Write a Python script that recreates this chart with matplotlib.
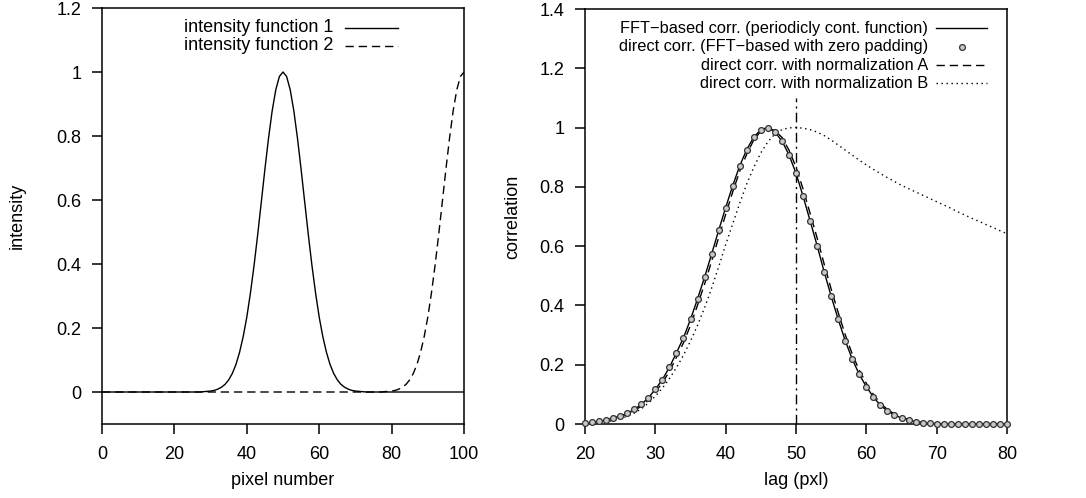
import matplotlib
matplotlib.use("Agg")
import matplotlib.pyplot as plt

plt.rcParams['font.family'] = ['Liberation Sans', 'DejaVu Sans']
plt.rcParams['lines.scale_dashes'] = False

# ---------------- data: left panel ----------------
pixel = list(range(0, 101))
# intensity function 1 (peak at pixel 50), values for pixels 27..73, zero elsewhere
f1_core = [0.000, 0.001, 0.002, 0.003, 0.005, 0.009, 0.015, 0.024, 0.038, 0.058,
           0.086, 0.124, 0.173, 0.234, 0.309, 0.395, 0.491, 0.593, 0.696, 0.793,
           0.878, 0.944, 0.986, 1.000, 0.986, 0.944, 0.878, 0.793, 0.696, 0.593,
           0.491, 0.395, 0.309, 0.234, 0.173, 0.124, 0.086, 0.058, 0.038, 0.024,
           0.015, 0.009, 0.005, 0.003, 0.002, 0.001, 0.000]
intensity1 = [0.0] * 27 + f1_core + [0.0] * (101 - 27 - len(f1_core))
# intensity function 2 (rising to its peak at pixel 100), values for pixels 78..100
f2_tail = [0.001, 0.002, 0.003, 0.005, 0.009, 0.015, 0.024, 0.038, 0.058, 0.086,
           0.124, 0.173, 0.234, 0.309, 0.395, 0.491, 0.593, 0.696, 0.793, 0.878,
           0.944, 0.986, 1.000]
intensity2 = [0.0] * (101 - len(f2_tail)) + f2_tail

# ---------------- data: right panel ----------------
lag = list(range(20, 81))
corr_fft = [0.002, 0.006, 0.009, 0.014, 0.020, 0.027, 0.036, 0.049, 0.066, 0.088,
            0.117, 0.150, 0.191, 0.240, 0.291, 0.353, 0.422, 0.495, 0.573, 0.653,
            0.730, 0.804, 0.871, 0.926, 0.968, 0.993, 1.000, 0.985, 0.955, 0.908,
            0.846, 0.769, 0.686, 0.602, 0.514, 0.431, 0.353, 0.281, 0.219, 0.167,
            0.126, 0.091, 0.063, 0.044, 0.030, 0.020, 0.013, 0.008, 0.004, 0.002,
            0.001, 0, 0, 0, 0, 0, 0, 0, 0, 0, 0]
corr_direct = list(corr_fft)
corr_normA = [0.001, 0.005, 0.008, 0.012, 0.018, 0.025, 0.033, 0.045, 0.060, 0.080,
              0.108, 0.139, 0.177, 0.225, 0.274, 0.333, 0.401, 0.472, 0.549, 0.629,
              0.707, 0.783, 0.853, 0.911, 0.958, 0.988, 0.998, 0.990, 0.967, 0.924,
              0.867, 0.793, 0.711, 0.628, 0.540, 0.455, 0.376, 0.301, 0.236, 0.181,
              0.137, 0.100, 0.070, 0.049, 0.034, 0.023, 0.015, 0.009, 0.005, 0.003,
              0.001, 0, 0, 0, 0, 0, 0, 0, 0, 0, 0]
corr_normB = [0.001, 0.003, 0.005, 0.008, 0.012, 0.018, 0.026, 0.037, 0.051, 0.070,
              0.094, 0.121, 0.153, 0.190, 0.232, 0.280, 0.333, 0.392, 0.458, 0.530,
              0.605, 0.675, 0.745, 0.810, 0.866, 0.915, 0.952, 0.978, 0.993, 0.999,
              1.000, 0.998, 0.993, 0.985, 0.973, 0.958, 0.941, 0.924, 0.907, 0.890,
              0.874, 0.859, 0.845, 0.831, 0.818, 0.805, 0.794, 0.783, 0.772, 0.761,
              0.750, 0.739, 0.728, 0.716, 0.705, 0.694, 0.684, 0.673, 0.663, 0.652,
              0.642]
expected_lag = 50
expected_line_top = 1.1

left_yticks = [0, 0.2, 0.4, 0.6, 0.8, 1.0, 1.2]
left_yticklabels = ["0", "0.2", "0.4", "0.6", "0.8", "1", "1.2"]
left_xticks = [0, 20, 40, 60, 80, 100]
right_yticks = [0, 0.2, 0.4, 0.6, 0.8, 1.0, 1.2, 1.4]
right_yticklabels = ["0", "0.2", "0.4", "0.6", "0.8", "1", "1.2", "1.4"]
right_xticks = [20, 30, 40, 50, 60, 70, 80]

legend_left = ["intensity function 1", "intensity function 2"]
legend_right = ["FFT\u2212based corr. (periodicly cont. function)",
                "direct corr. (FFT\u2212based with zero padding)",
                "direct corr. with normalization A",
                "direct corr. with normalization B"]

# ---------------- styling ----------------
FS = 13
FS_LEG_R = 11.8
LW = 1.0
DASH = (0, (6, 3.5))
DOT = (0, (1.0, 2.6))
DASHDOT = (0, (7, 3, 1.5, 3))

W, H = 1086, 498
fig = plt.figure(figsize=(W / 100, H / 100), dpi=100)

def frac(x0, y0, x1, y1):
    return [x0 / W, 1 - y1 / H, (x1 - x0) / W, (y1 - y0) / H]

ax1 = fig.add_axes(frac(102, 8, 464, 424))
ax2 = fig.add_axes(frac(585, 9, 1007, 424))

for ax in (ax1, ax2):
    for s in ax.spines.values():
        s.set_linewidth(1.1)
    ax.tick_params(direction='out', length=7, width=1.1, labelsize=FS,
                   top=False, right=False)
    ax.tick_params(axis='y', pad=8)
    ax.tick_params(axis='x', pad=9)

# left panel
ax1.plot(pixel, intensity1, color='black', lw=LW, linestyle='-')
ax1.plot(pixel, intensity2, color='black', lw=LW, linestyle=DASH)
ax1.set_xlim(0, 100)
ax1.set_ylim(-0.1, 1.2)
ax1.set_xticks(left_xticks)
ax1.set_xticklabels([str(v) for v in left_xticks])
ax1.set_yticks(left_yticks)
ax1.set_yticklabels(left_yticklabels)
ax1.set_xlabel("pixel number", fontsize=FS, labelpad=6)
ax1.set_ylabel("intensity", fontsize=FS, labelpad=22)

# gnuplot-like key (text right-aligned, sample on the right)
ly = [0.952, 0.909]
styles_left = ['-', DASH]
for t, yy, st in zip(legend_left, ly, styles_left):
    ax1.text(0.638, yy, t, transform=ax1.transAxes, ha='right', va='center', fontsize=FS)
    ax1.plot([0.671, 0.818], [yy, yy], transform=ax1.transAxes, color='black',
             lw=LW, linestyle=st, clip_on=False)

# right panel
ax2.plot(lag, corr_fft, color='black', lw=LW, linestyle='-', zorder=3)
ax2.plot(lag, corr_direct, linestyle='none', marker='o', markersize=4.2,
         markerfacecolor='#c8c8c8', markeredgecolor='#333333', markeredgewidth=0.9,
         clip_on=False, zorder=4)
ax2.plot(lag, corr_normA, color='black', lw=LW, linestyle=DASH, zorder=2)
ax2.plot(lag, corr_normB, color='black', lw=LW, linestyle=DOT, zorder=2)
ax2.plot([expected_lag, expected_lag], [0, expected_line_top], color='black', lw=LW,
         linestyle=DASHDOT, zorder=2)
ax2.set_xlim(20, 80)
ax2.set_ylim(0, 1.4)
ax2.set_xticks(right_xticks)
ax2.set_xticklabels([str(v) for v in right_xticks])
ax2.set_yticks(right_yticks)
ax2.set_yticklabels(right_yticklabels)
ax2.set_xlabel("lag (pxl)", fontsize=FS, labelpad=6)
ax2.set_ylabel("correlation", fontsize=FS, labelpad=13)

ry = [0.9535, 0.909, 0.865, 0.821]
for i, (t, yy) in enumerate(zip(legend_right, ry)):
    ax2.text(0.813, yy, t, transform=ax2.transAxes, ha='right', va='center',
             fontsize=FS_LEG_R)
    if i == 1:
        ax2.plot([0.893], [yy], transform=ax2.transAxes, linestyle='none', marker='o',
                 markersize=4.2, markerfacecolor='#c8c8c8', markeredgecolor='#333333',
                 markeredgewidth=0.9, clip_on=False)
    else:
        st = ['-', None, DASH, DOT][i]
        ax2.plot([0.832, 0.953], [yy, yy], transform=ax2.transAxes, color='black',
                 lw=LW, linestyle=st, clip_on=False)

fig.savefig("out.png", dpi=100)
